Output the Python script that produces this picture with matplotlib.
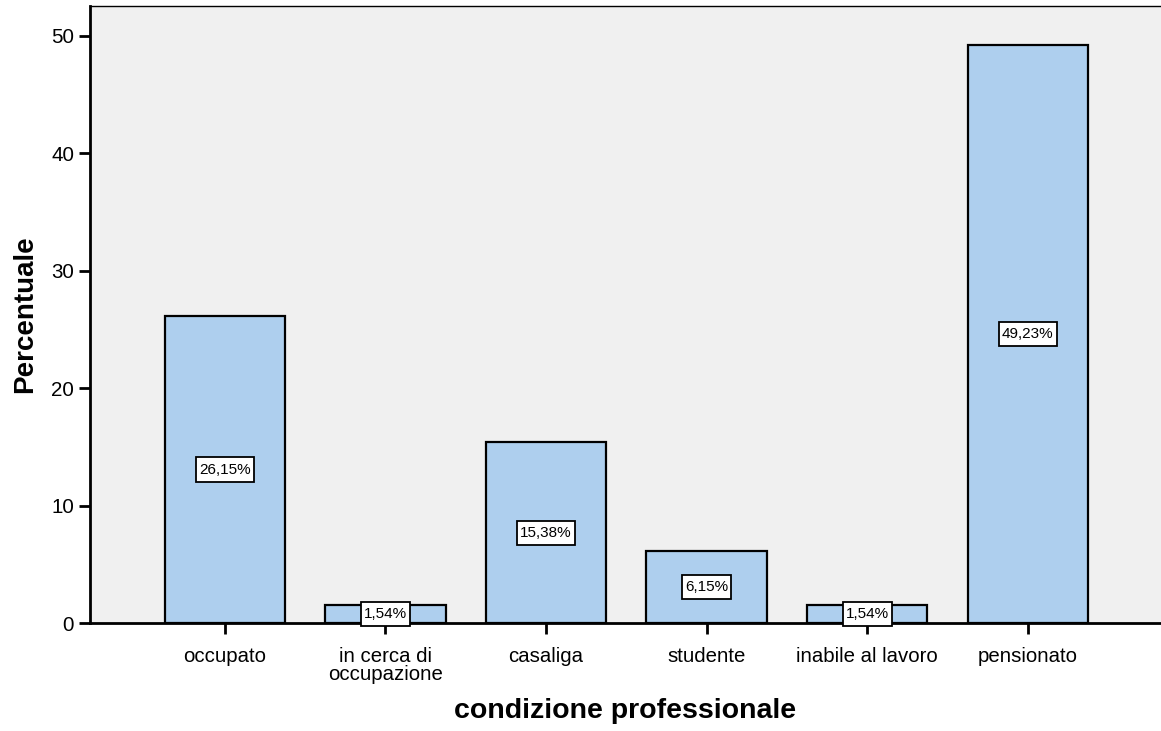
import matplotlib.pyplot as plt
from matplotlib.path import Path

plt.rcParams['font.family'] = ['Liberation Sans', 'DejaVu Sans']

categorie = ["occupato", "in cerca di\noccupazione", "casaliga", "studente",
             "inabile al lavoro", "pensionato"]
percentuali = [26.15, 1.54, 15.38, 6.15, 1.54, 49.23]
etichette = ["26,15%", "1,54%", "15,38%", "6,15%", "1,54%", "49,23%"]


def box_etichetta(x0, y0, width, height, mutation_size):
    # box stretto ai lati, piu' alto sopra e sotto
    px = 0.2 * mutation_size
    py = 0.33 * mutation_size
    x0, y0 = x0 - px, y0 - py
    x1, y1 = x0 + width + 2 * px, y0 + height + 2 * py
    return Path([(x0, y0), (x1, y0), (x1, y1), (x0, y1), (x0, y0)], closed=True)


fig = plt.figure(figsize=(11.61, 7.31), dpi=100)
ax = fig.add_axes([0.0775, 0.1477, 0.9225, 0.8441])
ax.set_facecolor('#f0f0f0')

x = range(len(categorie))
ax.bar(x, percentuali, width=0.75, color='#aecfee', edgecolor='black', linewidth=1.6, zorder=2)

for i, v in enumerate(percentuali):
    ax.text(i, v / 2, etichette[i], ha='center', va='center', fontsize=11, zorder=4,
            bbox=dict(boxstyle=box_etichetta, facecolor='white', edgecolor='black', linewidth=1.3))

ax.set_xlim(-0.84, 5.83)
ax.set_ylim(0, 52.55)
ax.set_yticks([0, 10, 20, 30, 40, 50])
ax.set_xticks(list(x))
ax.set_xticklabels(categorie, fontsize=14.7, linespacing=0.88)
ax.tick_params(axis='y', labelsize=14.8, length=8, width=2, pad=3.5)
ax.tick_params(axis='x', length=8, width=2, pad=9.5)

for s in ['left', 'bottom']:
    ax.spines[s].set_linewidth(2)
ax.spines['top'].set_linewidth(1)
ax.spines['right'].set_visible(False)

ax.set_xlabel("condizione professionale", fontsize=20.5, fontweight='bold', labelpad=10.5)
ax.set_ylabel("Percentuale", fontsize=20, fontweight='bold', labelpad=9.5)

plt.savefig("out.png", dpi=100)
